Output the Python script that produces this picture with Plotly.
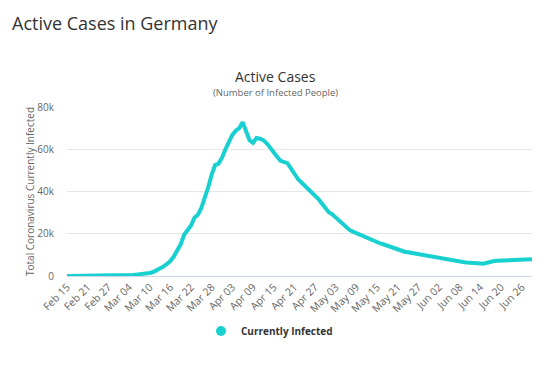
import pandas as pd
import plotly.graph_objects as go

# Active cases in Germany, daily from Feb 15 to Jun 29 (2020)
start_date = "2020-02-15"
active_cases = [
    14, 14, 14, 14, 14, 14, 14, 14, 14, 14,
    16, 21, 30, 50, 63, 114, 143, 180, 245, 466,
    654, 780, 1000, 1160, 1440, 1880, 2700, 3600, 4500, 5700,
    7100, 9200, 12100, 15000, 19500, 21600, 23900, 27600, 29000, 32200,
    36500, 42000, 48000, 52500, 53200, 56000, 60000, 63000, 66800, 68800,
    70000, 72800, 68500, 64300, 63000, 65300, 65000, 64300, 62800, 60500,
    58800, 56500, 54500, 54100, 53400, 51000, 48500, 46000, 44400, 42800,
    41000, 39800, 38300, 36400, 34300, 32300, 30200, 29200, 27700, 26500,
    24800, 23000, 21800, 21000, 20300, 19700, 19000, 18000, 17200, 16400,
    16000, 15400, 14900, 14300, 13600, 13000, 12400, 11900, 11500, 11200,
    10900, 10600, 10300, 10100, 9800, 9200, 9000, 8700, 8400, 8200,
    8000, 7700, 7400, 7100, 6900, 6600, 6400, 6300, 6100, 6000,
    5900, 5800, 6300, 6900, 7100, 7200, 7300, 7400, 7500, 7600,
    7600, 7700, 7700, 7800, 7800, 7900,
]
dates = pd.date_range(start_date, periods=len(active_cases))

series_name = "Currently Infected"
page_heading = "Active Cases in Germany"
chart_title = "Active Cases"
chart_subtitle = "(Number of Infected People)"
y_title = "Total Coronavirus Currently Infected"
y_tickvals = [0, 20000, 40000, 60000, 80000]
y_ticktext = ["0", "20k", "40k", "60k", "80k"]

LINE = "#18d0d0"
FONT = "Open Sans, DejaVu Sans, sans-serif"

# the page body adds an 8px margin; work in screen pixels and subtract it
OFF = 8
SW, SH = 557, 367
W, H = SW - OFF, SH - OFF
plot_left, plot_right, plot_top, plot_bottom = 67, 532, 107, 276
L = plot_left - OFF
T = plot_top - OFF
R = SW - plot_right
B = SH - plot_bottom
pw, ph = W - L - R, H - T - B


def px(x):
    return (x - OFF - L) / pw


def py(y):
    return (H - B - (y - OFF)) / ph


fig = go.Figure()
fig.add_trace(go.Scatter(
    x=dates, y=active_cases, mode="lines",
    line=dict(color=LINE, width=4),
    showlegend=False, hoverinfo="x+y",
))
# legend entry only
fig.add_trace(go.Scatter(
    x=[None], y=[None], mode="markers", name=series_name,
    marker=dict(color=LINE, size=10, symbol="circle"),
    showlegend=True,
))

fig.update_layout(
    width=W, height=H,
    margin=dict(l=L, r=R, t=T, b=B, autoexpand=False),
    paper_bgcolor="white", plot_bgcolor="white",
    font=dict(family=FONT, color="#666666", size=11),
    showlegend=True,
    legend=dict(
        orientation="h", x=px(201), xanchor="left", y=py(331), yanchor="middle",
        font=dict(family=FONT, size=10, color="#333333", weight="bold"),
        bgcolor="rgba(0,0,0,0)",
    ),
    xaxis=dict(
        type="date",
        range=[dates[0], dates[-1]],
        tick0=dates[0], dtick=6 * 86400000,
        tickformat="%b %d", tickangle=-45,
        tickfont=dict(size=10.5, color="#666666"),
        showgrid=False, zeroline=False,
        showline=True, linecolor="#ccd6eb", linewidth=1,
        ticks="", fixedrange=True, automargin=False,
    ),
    yaxis=dict(
        range=[0, 80000],
        tickvals=y_tickvals, ticktext=y_ticktext,
        tickfont=dict(size=10, color="#666666"),
        showgrid=True, gridcolor="#e6e6e6", gridwidth=1,
        zeroline=False, showline=False,
        ticklabelstandoff=12, automargin=False,
        title=dict(text=y_title, font=dict(size=10, color="#666666"), standoff=0),
    ),
    annotations=[
        dict(text=page_heading, xref="paper", yref="paper", x=px(10), y=py(23),
             xanchor="left", yanchor="middle", showarrow=False,
             font=dict(family=FONT, size=18, color="#333333")),
        dict(text=chart_title, xref="paper", yref="paper", x=px(275), y=py(76),
             xanchor="center", yanchor="middle", showarrow=False,
             font=dict(family=FONT, size=14, color="#333333")),
        dict(text=chart_subtitle, xref="paper", yref="paper", x=px(275), y=py(92.5),
             xanchor="center", yanchor="middle", showarrow=False,
             font=dict(family=FONT, size=9.5, color="#666666")),
    ],
)

fig.write_html("out.html")
